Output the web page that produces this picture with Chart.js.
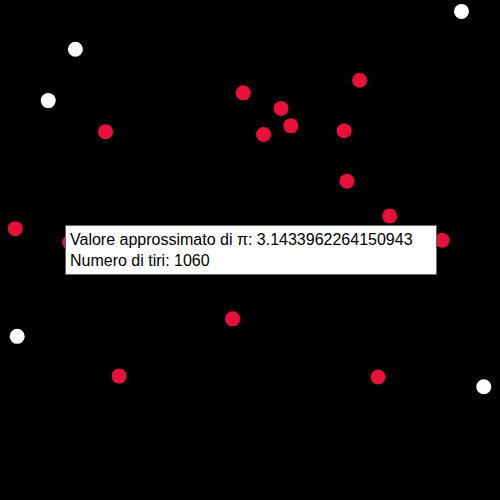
<!DOCTYPE html>
<html>
<head>
<meta charset="utf-8">
<script src="https://cdn.jsdelivr.net/npm/chart.js@4/dist/chart.umd.min.js"></script>
<style>
  body { margin: 0; background: #000; }
  #wrap { position: relative; width: 500px; height: 500px; }
  #info {
    position: absolute; left: 65px; top: 225px; width: 362px; height: 42px;
    background: #fff; border: 1px solid #666; padding: 3px 4px;
    font-family: "Liberation Sans", Arial, sans-serif; font-size: 16px; line-height: 21px; color: #000;
  }
</style>
</head>
<body>
<div id="wrap">
  <canvas id="grafico" width="500" height="500"></canvas>
  <div id="info">Valore approssimato di π: 3.1433962264150943<br>Numero di tiri: 1060</div>
</div>
<script>
// tiri dentro il cerchio
const dentroX = [-0.028, 0.452, 0.128, -0.596, 0.056, 0.168, 0.388, 0.4, 0.576, -0.968, 0.792, -0.744, -0.072, -0.54, 0.528];
const dentroY = [0.648, 0.7, 0.584, 0.488, 0.476, 0.512, 0.492, 0.284, 0.14, 0.088, 0.04, 0.032, -0.284, -0.52, -0.524];
// tiri fuori dal cerchio
const fuoriX = [0.872, -0.72, -0.832, -0.96, 0.964];
const fuoriY = [0.984, 0.828, 0.616, -0.356, -0.564];

const punti = (xs, ys) => xs.map((x, i) => ({ x: x, y: ys[i] }));

new Chart(document.getElementById('grafico'), {
  type: 'scatter',
  data: {
    datasets: [
      { data: punti(dentroX, dentroY), backgroundColor: '#e8103a', borderWidth: 0, pointRadius: 7.5, clip: false },
      { data: punti(fuoriX, fuoriY), backgroundColor: '#ffffff', borderWidth: 0, pointRadius: 7.5, clip: false }
    ]
  },
  options: {
    responsive: false,
    animation: false,
    layout: { padding: 0 },
    plugins: { legend: { display: false }, tooltip: { enabled: false } },
    scales: {
      x: { display: false, min: -1, max: 1 },
      y: { display: false, min: -1, max: 1 }
    }
  }
});
</script>
</body>
</html>
